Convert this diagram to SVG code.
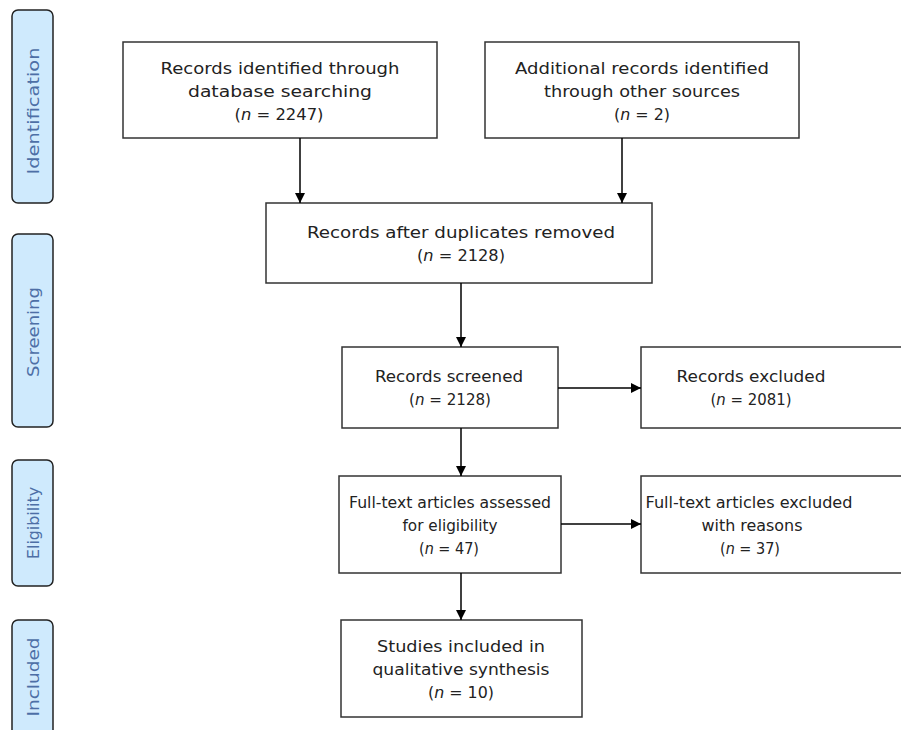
<svg xmlns="http://www.w3.org/2000/svg" width="901" height="730" viewBox="0 0 901 730">
<defs>
<marker id="ah" markerWidth="10" markerHeight="10" refX="10" refY="5" orient="auto" markerUnits="userSpaceOnUse">
<path d="M0,0 L10,5 L0,10 Z" fill="#000"/>
</marker>
<style>
.box{fill:#fff;stroke:#333;stroke-width:1.5}
.side{fill:#cfeafd;stroke:#222;stroke-width:1.5}
.t{font-family:"DejaVu Sans","Liberation Sans",sans-serif;font-size:16.5px;fill:#222;text-anchor:middle}
.s{font-family:"DejaVu Sans","Liberation Sans",sans-serif;font-size:15.5px;fill:#4d6fa6;text-anchor:middle}
.c{stroke:#000;stroke-width:1.5;fill:none;marker-end:url(#ah)}
</style>
</defs>
<rect width="901" height="730" fill="#fff"/>
<g id="side-identification"><rect class="side" x="12" y="10" width="41" height="193" rx="6"/><text class="s" transform="translate(39,111) rotate(-90)" textLength="127" lengthAdjust="spacingAndGlyphs">Identification</text></g>
<g id="side-screening"><rect class="side" x="12" y="234" width="41" height="193" rx="6"/><text class="s" transform="translate(39,332) rotate(-90)" textLength="90" lengthAdjust="spacingAndGlyphs">Screening</text></g>
<g id="side-eligibility"><rect class="side" x="12" y="460" width="41" height="126" rx="6"/><text class="s" transform="translate(39,523) rotate(-90)" textLength="72" lengthAdjust="spacingAndGlyphs">Eligibility</text></g>
<g id="side-included"><rect class="side" x="12" y="620" width="41" height="120" rx="6"/><text class="s" transform="translate(39,677) rotate(-90)" textLength="79" lengthAdjust="spacingAndGlyphs">Included</text></g>

<g id="n1"><rect class="box" x="123" y="42" width="314" height="96"/>
<text class="t" x="280" y="74" textLength="239" lengthAdjust="spacingAndGlyphs">Records identified through</text>
<text class="t" x="280" y="97" textLength="184" lengthAdjust="spacingAndGlyphs">database searching</text>
<text class="t" x="279" y="120" textLength="89" lengthAdjust="spacingAndGlyphs">(<tspan font-style="italic">n</tspan> = 2247)</text></g>

<g id="n2"><rect class="box" x="485" y="42" width="314" height="96"/>
<text class="t" x="642" y="74" textLength="254" lengthAdjust="spacingAndGlyphs">Additional records identified</text>
<text class="t" x="642" y="97" textLength="196" lengthAdjust="spacingAndGlyphs">through other sources</text>
<text class="t" x="642" y="120" textLength="56" lengthAdjust="spacingAndGlyphs">(<tspan font-style="italic">n</tspan> = 2)</text></g>

<g id="n3"><rect class="box" x="266" y="203" width="386" height="80"/>
<text class="t" x="461" y="238" textLength="308" lengthAdjust="spacingAndGlyphs">Records after duplicates removed</text>
<text class="t" x="461" y="261" textLength="88" lengthAdjust="spacingAndGlyphs">(<tspan font-style="italic">n</tspan> = 2128)</text></g>

<g id="n4"><rect class="box" x="342" y="347" width="216" height="81"/>
<text class="t" x="449" y="382" textLength="148" lengthAdjust="spacingAndGlyphs">Records screened</text>
<text class="t" x="450" y="405" textLength="82" lengthAdjust="spacingAndGlyphs">(<tspan font-style="italic">n</tspan> = 2128)</text></g>

<g id="n5"><rect class="box" x="641" y="347" width="275" height="81"/>
<text class="t" x="751" y="382" textLength="149" lengthAdjust="spacingAndGlyphs">Records excluded</text>
<text class="t" x="751" y="405" textLength="81" lengthAdjust="spacingAndGlyphs">(<tspan font-style="italic">n</tspan> = 2081)</text></g>

<g id="n6"><rect class="box" x="339" y="476" width="222" height="97"/>
<text class="t" x="450" y="508" textLength="202" lengthAdjust="spacingAndGlyphs">Full-text articles assessed</text>
<text class="t" x="450" y="531" textLength="95" lengthAdjust="spacingAndGlyphs">for eligibility</text>
<text class="t" x="449" y="554" textLength="60" lengthAdjust="spacingAndGlyphs">(<tspan font-style="italic">n</tspan> = 47)</text></g>

<g id="n7"><rect class="box" x="641" y="476" width="275" height="97"/>
<text class="t" x="749" y="508" textLength="207" lengthAdjust="spacingAndGlyphs">Full-text articles excluded</text>
<text class="t" x="752" y="531" textLength="101" lengthAdjust="spacingAndGlyphs">with reasons</text>
<text class="t" x="750" y="554" textLength="60" lengthAdjust="spacingAndGlyphs">(<tspan font-style="italic">n</tspan> = 37)</text></g>

<g id="n8"><rect class="box" x="341" y="620" width="241" height="97"/>
<text class="t" x="461" y="652" textLength="168" lengthAdjust="spacingAndGlyphs">Studies included in</text>
<text class="t" x="461" y="675" textLength="177" lengthAdjust="spacingAndGlyphs">qualitative synthesis</text>
<text class="t" x="461" y="698" textLength="66" lengthAdjust="spacingAndGlyphs">(<tspan font-style="italic">n</tspan> = 10)</text></g>

<g id="connectors">
<path class="c" d="M300,138 V203"/>
<path class="c" d="M622,138 V203"/>
<path class="c" d="M461,283 V347"/>
<path class="c" d="M558,388 H641"/>
<path class="c" d="M461,428 V476"/>
<path class="c" d="M561,524 H641"/>
<path class="c" d="M461,573 V620"/>
</g>
</svg>
